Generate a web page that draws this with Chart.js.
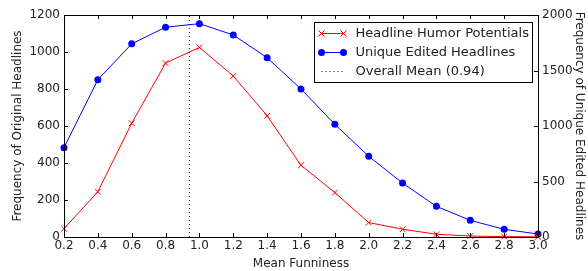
<!DOCTYPE html>
<html>
<head>
<meta charset="utf-8">
<script src="https://cdn.jsdelivr.net/npm/chart.js@4/dist/chart.umd.min.js"></script>
<style>
  html, body { margin: 0; padding: 0; background: #fff; }
  #wrap { width: 588px; height: 271px; }
</style>
</head>
<body>
<div id="wrap"><canvas id="grafico"></canvas></div>
<script>
// datos
const funniness = [0.2, 0.4, 0.6, 0.8, 1.0, 1.2, 1.4, 1.6, 1.8, 2.0, 2.2, 2.4, 2.6, 2.8, 3.0];
const humorPotentials = [45, 245, 615, 940, 1025, 870, 655, 388, 240, 78, 42, 15, 5, 2, 1];
const uniqueEdited = [805, 1417, 1740, 1890, 1922, 1820, 1615, 1333, 1015, 727, 486, 276, 150, 69, 27];
const overallMean = 0.94;
const leftTicks = [0, 200, 400, 600, 800, 1000, 1200];
const rightTicks = [0, 500, 1000, 1500, 2000];

const fuente = "DejaVu Sans";
Chart.defaults.font.family = fuente;
Chart.defaults.font.size = 12;
Chart.defaults.color = "#222";

const puntos = (ys) => funniness.map((x, i) => ({ x: x, y: ys[i] }));

// marco + ticks hacia dentro + leyenda (estilo matplotlib)
const marcoPlugin = {
  id: "marco",
  afterDraw(chart) {
    const { ctx, chartArea: a, scales } = chart;
    ctx.save();
    ctx.strokeStyle = "#000";
    ctx.lineWidth = 1;
    ctx.beginPath();
    funniness.forEach(v => {
      const px = Math.round(scales.x.getPixelForValue(v)) + 0.5;
      ctx.moveTo(px, a.bottom); ctx.lineTo(px, a.bottom - 4);
      ctx.moveTo(px, a.top); ctx.lineTo(px, a.top + 4);
    });
    leftTicks.forEach(v => {
      const py = Math.round(scales.y.getPixelForValue(v)) + 0.5;
      ctx.moveTo(a.left, py); ctx.lineTo(a.left + 4, py);
    });
    rightTicks.forEach(v => {
      const py = Math.round(scales.y1.getPixelForValue(v)) + 0.5;
      ctx.moveTo(a.right, py); ctx.lineTo(a.right - 4, py);
    });
    ctx.stroke();
    ctx.strokeRect(Math.round(a.left) + 0.5, Math.round(a.top) + 0.5,
      Math.round(a.right - a.left), Math.round(a.bottom - a.top));

    // leyenda
    const lx = 314.5, ly = 22.5, lw = 218, lh = 60;
    ctx.fillStyle = "#fff";
    ctx.fillRect(lx, ly, lw, lh);
    ctx.strokeRect(lx, ly, lw, lh);
    const filas = [
      { texto: "Headline Humor Potentials", tipo: "x" },
      { texto: "Unique Edited Headlines", tipo: "o" },
      { texto: "Overall Mean (0.94)", tipo: ":" }
    ];
    ctx.font = "13px " + fuente;
    ctx.textBaseline = "middle";
    filas.forEach((f, i) => {
      const yy = ly + 11 + i * 19;
      const x0 = lx + 7, x1 = lx + 29;
      if (f.tipo === "x") {
        ctx.strokeStyle = "#ff0000";
        ctx.beginPath(); ctx.moveTo(x0, yy); ctx.lineTo(x1, yy); ctx.stroke();
        [x0, x1].forEach(cx => {
          ctx.beginPath();
          ctx.moveTo(cx - 3, yy - 3); ctx.lineTo(cx + 3, yy + 3);
          ctx.moveTo(cx + 3, yy - 3); ctx.lineTo(cx - 3, yy + 3);
          ctx.stroke();
        });
      } else if (f.tipo === "o") {
        ctx.strokeStyle = "#0000ff";
        ctx.fillStyle = "#0000ff";
        ctx.beginPath(); ctx.moveTo(x0, yy); ctx.lineTo(x1, yy); ctx.stroke();
        [x0, x1].forEach(cx => {
          ctx.beginPath(); ctx.arc(cx, yy, 3.5, 0, Math.PI * 2); ctx.fill();
        });
      } else {
        ctx.strokeStyle = "#000";
        ctx.setLineDash([1, 3]);
        ctx.beginPath(); ctx.moveTo(x0, yy); ctx.lineTo(x1, yy); ctx.stroke();
        ctx.setLineDash([]);
      }
      ctx.fillStyle = "#222";
      ctx.fillText(f.texto, lx + 41, yy);
    });
    ctx.restore();
  }
};

const config = {
  type: "line",
  data: {
    datasets: [
      {
        label: "Headline Humor Potentials",
        data: puntos(humorPotentials),
        yAxisID: "y",
        borderColor: "#ff0000",
        backgroundColor: "#ff0000",
        borderWidth: 1,
        pointStyle: "crossRot",
        pointRadius: 4,
        pointBorderWidth: 1,
        tension: 0
      },
      {
        label: "Unique Edited Headlines",
        data: puntos(uniqueEdited),
        yAxisID: "y1",
        borderColor: "#0000ff",
        backgroundColor: "#0000ff",
        borderWidth: 1,
        pointStyle: "circle",
        pointRadius: 3.5,
        pointBorderWidth: 0,
        tension: 0
      },
      {
        label: "Overall Mean (0.94)",
        data: [{ x: overallMean, y: 0 }, { x: overallMean, y: 1200 }],
        yAxisID: "y",
        borderColor: "#000",
        borderWidth: 1,
        borderDash: [1, 3],
        pointRadius: 0
      }
    ]
  },
  options: {
    responsive: true,
    maintainAspectRatio: false,
    animation: false,
    clip: false,
    layout: { padding: { top: 15, right: 0, left: 0, bottom: 0 } },
    plugins: {
      legend: { display: false },
      tooltip: { enabled: false }
    },
    scales: {
      x: {
        type: "linear",
        min: 0.2,
        max: 3.0,
        grid: { display: false, drawTicks: false },
        border: { display: false },
        ticks: {
          stepSize: 0.2,
          padding: 2,
          maxRotation: 0,
          autoSkip: false,
          color: "#222",
          font: { size: 12 },
          callback: v => Number(v).toFixed(1)
        },
        title: { display: true, text: "Mean Funniness", color: "#222", font: { size: 12 }, padding: { top: 1, bottom: 0 } },
        afterFit: s => { s.height = 34; }
      },
      y: {
        position: "left",
        min: 0,
        max: 1200,
        grid: { display: false, drawTicks: false },
        border: { display: false },
        ticks: { stepSize: 200, padding: 4, color: "#222", font: { size: 12 }, callback: v => String(v) },
        title: { display: true, text: "Frequency of Original Headlines", color: "#222", font: { size: 12 }, padding: { top: 11, bottom: 2 } },
        afterFit: s => { s.width = 64; }
      },
      y1: {
        position: "right",
        min: 0,
        max: 2000,
        grid: { display: false, drawTicks: false },
        border: { display: false },
        ticks: { stepSize: 500, padding: 4, color: "#222", font: { size: 12 }, callback: v => String(v) },
        title: { display: true, text: "Frequency of Unique Edited Headlines", color: "#222", font: { size: 12 }, padding: { top: 2, bottom: 0 } },
        afterFit: s => { s.width = 50; }
      }
    }
  },
  plugins: [marcoPlugin]
};

const miGrafico = new Chart(document.getElementById("grafico"), config);
</script>
</body>
</html>
